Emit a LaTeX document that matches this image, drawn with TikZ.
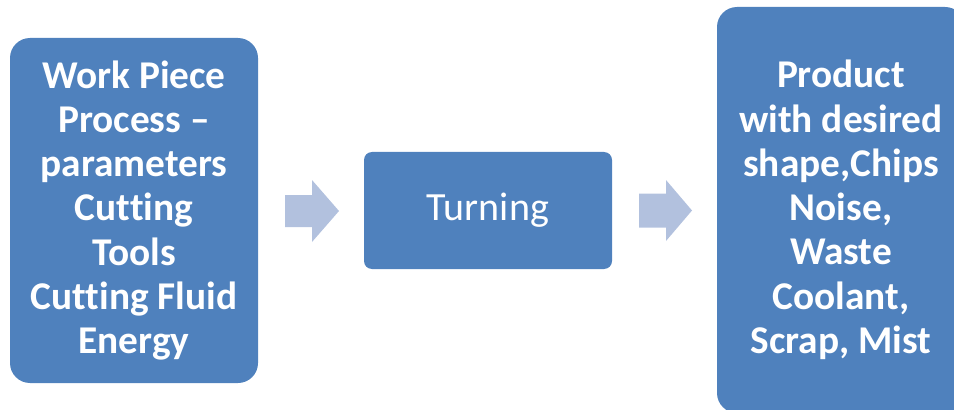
\documentclass[tikz,border=0pt]{standalone}
\usepackage{fontspec}
\setmainfont[Ligatures=NoCommon]{Carlito}
\definecolor{boxblue}{RGB}{79,129,189}
\definecolor{arrowblue}{RGB}{178,193,222}
\begin{document}
\begin{tikzpicture}[x=0.75pt,y=-0.75pt,
  bigbox/.style={fill=boxblue, text=white, align=center, inner sep=0pt,
    minimum width=186pt, rounded corners=15pt,
    font=\fontsize{29.5}{33.2}\selectfont\bfseries},
  midbox/.style={fill=boxblue, text=white, align=center, inner sep=0pt,
    minimum width=186pt, minimum height=87.75pt, rounded corners=6pt,
    font=\fontsize{30}{36}\selectfont},
  blockarrow/.style={fill=arrowblue}]
\useasboundingbox (0,0) rectangle (954,410);
\clip (0,0) rectangle (954,410);
\node[bigbox, minimum height=258.75pt] (inp) at (134,210.5)
  {Work Piece\\Process --\\parameters\\Cutting\\Tools\\Cutting Fluid\\Energy};
\node[midbox] (turn) at (488,210.5) {Turning};
\node[bigbox, minimum height=304.5pt] (out) at (841,210)
  {Product\\with desired\\shape,Chips\\Noise,\\Waste\\Coolant,\\Scrap, Mist};
\coordinate (a1) at (285,211);
\coordinate (a2) at (639,210.5);
\fill[blockarrow] (a1) ++(0,-16) -- ++(27,0) -- ++(0,-15) -- ++(27,31)
  -- ++(-27,31) -- ++(0,-15) -- ++(-27,0) -- cycle;
\fill[blockarrow] (a2) ++(0,-17) -- ++(27,0) -- ++(0,-13.5) -- ++(26,30.5)
  -- ++(-26,30.5) -- ++(0,-13.5) -- ++(-27,0) -- cycle;
\end{tikzpicture}
\end{document}
